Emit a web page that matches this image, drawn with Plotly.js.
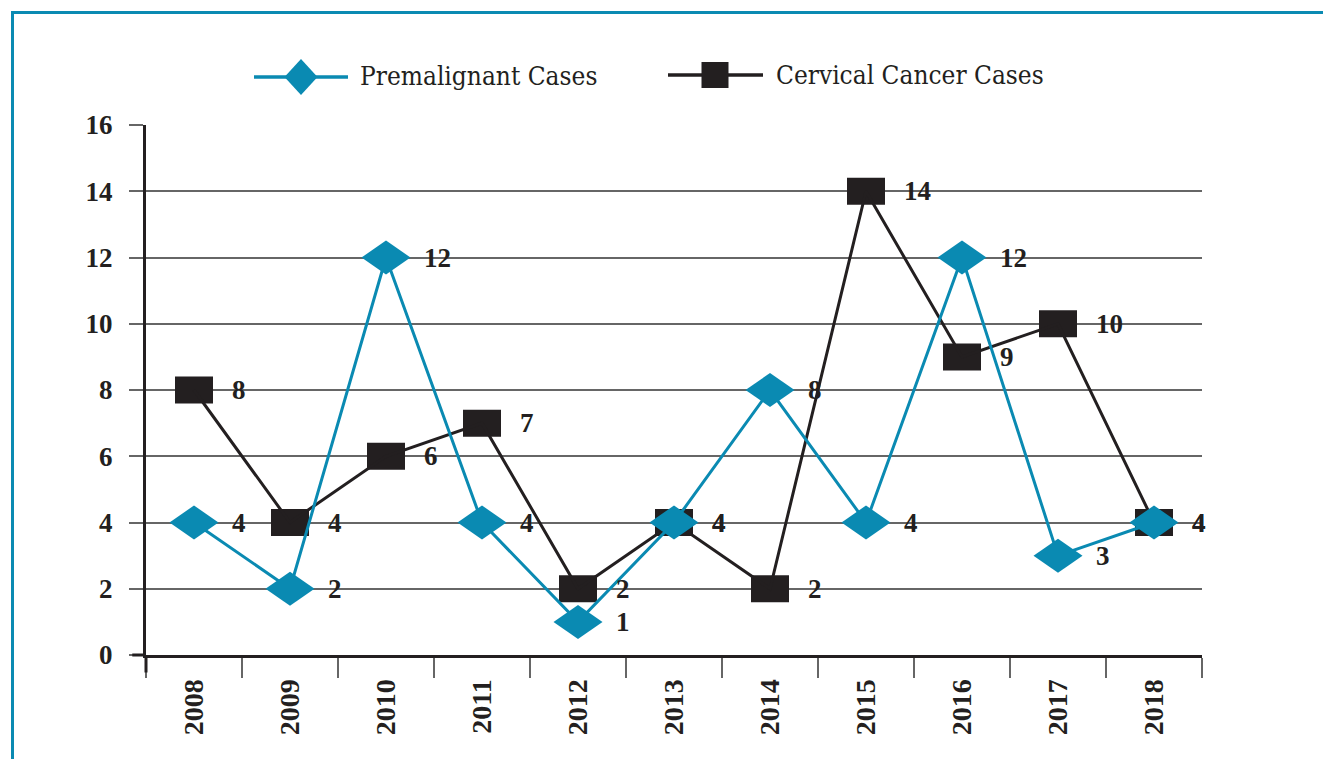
<!DOCTYPE html>
<html>
<head>
<meta charset="utf-8">
<script src="https://cdn.plot.ly/plotly-3.0.1.min.js"></script>
<style>
html,body{margin:0;padding:0;background:#fff;overflow:hidden;}
#chart{width:1323px;height:759px;position:absolute;left:0;top:0;}
#frame{position:absolute;left:11px;top:11px;width:1400px;height:900px;border-top:3px solid #0a8ab2;border-left:3px solid #0a8ab2;pointer-events:none;}
</style>
</head>
<body>
<div id="chart"></div>
<div id="frame"></div>
<script>
const years = ["2008","2009","2010","2011","2012","2013","2014","2015","2016","2017","2018"];
const premalignant = [4, 2, 12, 4, 1, 4, 8, 4, 12, 3, 4];
const cervical = [8, 4, 6, 7, 2, 4, 2, 14, 9, 10, 4];
const seriesNames = ["Premalignant Cases", "Cervical Cancer Cases"];
const yTicks = [0, 2, 4, 6, 8, 10, 12, 14, 16];

const teal = "#0a8ab2";
const dark = "#231f20";
function numFont(size) {
  return {family: "Liberation Serif, serif", size: size, color: dark, weight: 700};
}

// plot area geometry (px) used for the hand-drawn legend
const W = 1323, H = 759, ML = 146, MR = 121, MT = 125, MB = 104;
const PW = W - ML - MR, PH = H - MT - MB;
const px = x => (x - ML) / PW;
const py = y => (H - MB - y) / PH;

const DIAMOND = (w, h) => `M${-w/2},0L0,${h/2}L${w/2},0L0,${-h/2}Z`;

const traces = [
  {
    x: years, y: cervical, name: seriesNames[1], type: "scatter", mode: "lines",
    line: {color: dark, width: 3}, showlegend: false, hoverinfo: "skip"
  },
  {
    x: years, y: premalignant, name: seriesNames[0], type: "scatter", mode: "lines",
    line: {color: teal, width: 3}, showlegend: false, hoverinfo: "skip"
  }
];

const shapes = [];
// markers (stretched like the original chart)
cervical.forEach((v, i) => shapes.push({
  type: "rect", layer: "between", xref: "x", yref: "y",
  xsizemode: "pixel", ysizemode: "pixel", xanchor: i, yanchor: v,
  x0: -19, x1: 19, y0: -13.5, y1: 13.5,
  fillcolor: dark, line: {width: 0}
}));
premalignant.forEach((v, i) => shapes.push({
  type: "path", layer: "above", xref: "x", yref: "y",
  xsizemode: "pixel", ysizemode: "pixel", xanchor: i, yanchor: v,
  path: DIAMOND(49, 34), fillcolor: teal, line: {width: 0}
}));
// axis extensions
shapes.push({type: "line", xref: "paper", yref: "paper", x0: 0, x1: 0, y0: 0, y1: -0.033,
  line: {color: dark, width: 3}});
shapes.push({type: "line", xref: "paper", yref: "paper", x0: -0.013, x1: 0, y0: 0, y1: 0,
  line: {color: dark, width: 3}});
// legend symbols
shapes.push({type: "line", xref: "paper", yref: "paper", x0: px(254), x1: px(348), y0: py(77), y1: py(77),
  line: {color: teal, width: 3.5}});
shapes.push({type: "path", xref: "paper", yref: "paper", xsizemode: "pixel", ysizemode: "pixel",
  xanchor: px(301), yanchor: py(77), path: DIAMOND(33, 36), fillcolor: teal, line: {width: 0}});
shapes.push({type: "line", xref: "paper", yref: "paper", x0: px(668), x1: px(763), y0: py(75), y1: py(75),
  line: {color: dark, width: 3.5}});
shapes.push({type: "rect", xref: "paper", yref: "paper", xsizemode: "pixel", ysizemode: "pixel",
  xanchor: px(715), yanchor: py(75), x0: -13.5, x1: 13.5, y0: -13, y1: 13, fillcolor: dark, line: {width: 0}});

const annotations = [];
function addLabels(vals) {
  vals.forEach((v, i) => {
    annotations.push({
      x: i, y: v, xref: "x", yref: "y", text: String(v),
      showarrow: false, xanchor: "left", yanchor: "middle", xshift: 36,
      font: numFont(27)
    });
  });
}
addLabels(cervical);
addLabels(premalignant);
const legendFont = {family: "DejaVu Serif Condensed, DejaVu Serif, serif", size: 26, color: dark};
annotations.push({xref: "paper", yref: "paper", x: px(358), y: py(76), xanchor: "left", yanchor: "middle",
  text: seriesNames[0], showarrow: false, font: legendFont});
annotations.push({xref: "paper", yref: "paper", x: px(774), y: py(75), xanchor: "left", yanchor: "middle",
  text: seriesNames[1], showarrow: false, font: legendFont});

const layout = {
  width: W, height: H,
  margin: {l: ML, r: MR, t: MT, b: MB},
  paper_bgcolor: "#fff", plot_bgcolor: "#fff",
  showlegend: false,
  xaxis: {
    type: "category", range: [-0.5, 10.5], tickson: "boundaries",
    ticks: "outside", ticklen: 20, tickwidth: 2, tickcolor: "#666",
    showgrid: false, showline: true, linecolor: dark, linewidth: 3,
    tickangle: -90, tickfont: numFont(28), ticklabelstandoff: 10,
    fixedrange: true
  },
  yaxis: {
    range: [0, 16], tickvals: yTicks, ticktext: yTicks.map(String),
    ticks: "outside", ticklen: 14, tickwidth: 2, tickcolor: "#666",
    showgrid: true, gridcolor: "#666", gridwidth: 2, zeroline: false,
    showline: true, linecolor: dark, linewidth: 3,
    tickfont: numFont(27), ticklabelstandoff: 11, fixedrange: true
  },
  shapes: shapes,
  annotations: annotations
};

Plotly.newPlot("chart", traces, layout, {displayModeBar: false, staticPlot: true});
</script>
</body>
</html>
